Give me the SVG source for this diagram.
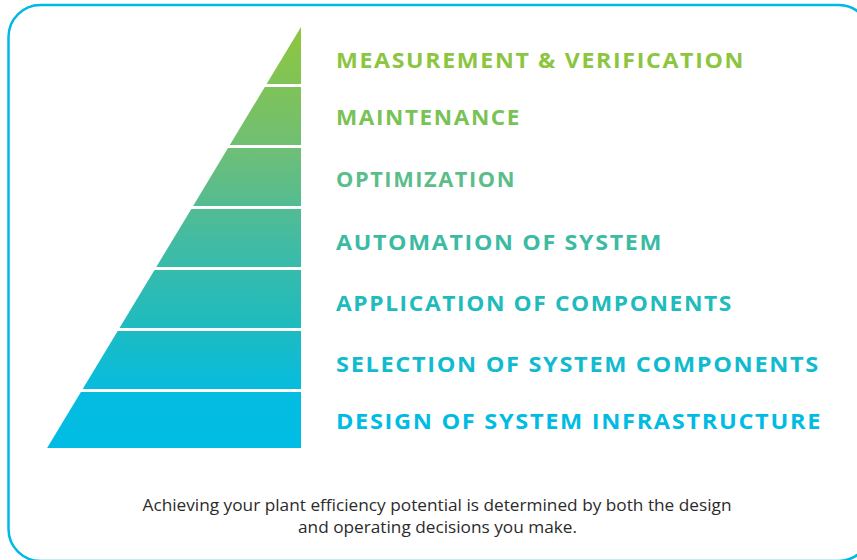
<svg xmlns="http://www.w3.org/2000/svg" width="857" height="560" viewBox="0 0 857 560">
<defs>
<linearGradient id="pyr" gradientUnits="userSpaceOnUse" x1="0" y1="27" x2="0" y2="448">
<stop offset="0" stop-color="#8fc63c"/>
<stop offset="0.3" stop-color="#6dbe78"/>
<stop offset="0.5" stop-color="#44bba1"/>
<stop offset="0.7" stop-color="#20bbbe"/>
<stop offset="0.87" stop-color="#05bce0"/>
<stop offset="1" stop-color="#00bce4"/>
</linearGradient>
<style>
.band{fill:url(#pyr);}
.lbl{font-family:"Open Sans","Liberation Sans",Arial,sans-serif;font-weight:700;font-size:21px;letter-spacing:1.5px;}
.note{font-family:"Open Sans","DejaVu Sans",sans-serif;font-size:16.5px;fill:#2b2b2b;text-anchor:middle;}
</style>
</defs>
<rect x="8.5" y="5" width="862" height="556" rx="32" ry="32" fill="#ffffff" stroke="#00b9e4" stroke-width="2.5"/>
<g id="level-measurement">
<polygon class="band" points="301,27 301,84 266.6,84"/>
<text class="lbl" x="336" y="68" fill="#8cc540" textLength="409" lengthAdjust="spacingAndGlyphs">MEASUREMENT &amp; VERIFICATION</text>
</g>
<g id="level-maintenance">
<polygon class="band" points="264.8,87 301,87 301,145 229.8,145"/>
<text class="lbl" x="336" y="125" fill="#78c256" textLength="185" lengthAdjust="spacingAndGlyphs">MAINTENANCE</text>
</g>
<g id="level-optimization">
<polygon class="band" points="228,148 301,148 301,206 193.1,206"/>
<text class="lbl" x="336" y="187" fill="#5bbd8a" textLength="180" lengthAdjust="spacingAndGlyphs">OPTIMIZATION</text>
</g>
<g id="level-automation">
<polygon class="band" points="191.3,209 301,209 301,267 156.3,267"/>
<text class="lbl" x="336" y="250" fill="#3cbba3" textLength="327" lengthAdjust="spacingAndGlyphs">AUTOMATION OF SYSTEM</text>
</g>
<g id="level-application">
<polygon class="band" points="154.5,270 301,270 301,328 119.5,328"/>
<text class="lbl" x="336" y="311" fill="#20bbbc" textLength="397" lengthAdjust="spacingAndGlyphs">APPLICATION OF COMPONENTS</text>
</g>
<g id="level-selection">
<polygon class="band" points="117.7,331 301,331 301,389 82.7,389"/>
<text class="lbl" x="336" y="372" fill="#10bbd0" textLength="484" lengthAdjust="spacingAndGlyphs">SELECTION OF SYSTEM COMPONENTS</text>
</g>
<g id="level-design">
<polygon class="band" points="80.9,392 301,392 301,448 47.1,448"/>
<text class="lbl" x="336" y="429" fill="#00bce4" textLength="486" lengthAdjust="spacingAndGlyphs">DESIGN OF SYSTEM INFRASTRUCTURE</text>
</g>
<g id="connectors"/>
<g id="caption">
<text class="note" x="437" y="511" textLength="589" lengthAdjust="spacingAndGlyphs">Achieving your plant efficiency potential is determined by both the design</text>
<text class="note" x="437.5" y="533" textLength="279" lengthAdjust="spacingAndGlyphs">and operating decisions you make.</text>
</g>
</svg>
